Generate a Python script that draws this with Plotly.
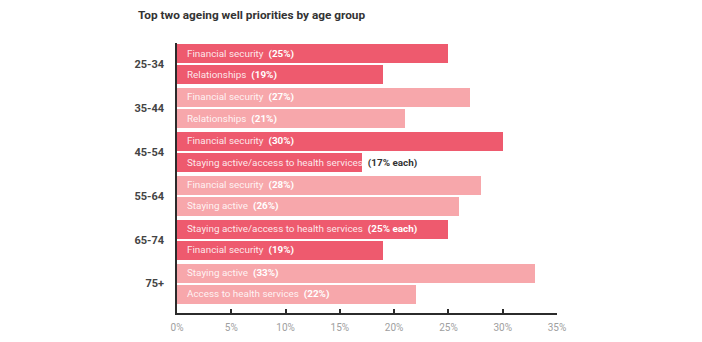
import plotly.graph_objects as go

# ---- data ----
age_groups = ["25-34", "35-44", "45-54", "55-64", "65-74", "75+"]
priorities = [
    "Financial security", "Relationships",
    "Financial security", "Relationships",
    "Financial security", "Staying active/access to health services",
    "Financial security", "Staying active",
    "Staying active/access to health services", "Financial security",
    "Staying active", "Access to health services",
]
values = [25, 19, 27, 21, 30, 17, 28, 26, 25, 19, 33, 22]
pct_labels = ["(25%)", "(19%)", "(27%)", "(21%)", "(30%)", "(17% each)",
              "(28%)", "(26%)", "(25% each)", "(19%)", "(33%)", "(22%)"]
x_ticks = [0, 5, 10, 15, 20, 25, 30, 35]

# ---- layout helpers (pixel-like units on y) ----
DARK = "#EE5A6E"
LIGHT = "#F7A7AB"
Y0, GROUP_STEP, BAR_STEP, BAR_H = 53.5, 43.9, 21.2, 19

ys, colors = [], []
for i, v in enumerate(values):
    g, k = divmod(i, 2)
    ys.append(Y0 + g * GROUP_STEP + k * BAR_STEP)
    colors.append(DARK if g % 2 == 0 else LIGHT)
group_centers = [Y0 + g * GROUP_STEP + BAR_STEP / 2 for g in range(len(age_groups))]

FONT = "Roboto"

fig = go.Figure(go.Bar(
    x=values, y=ys, orientation="h", width=BAR_H,
    marker=dict(color=colors, line=dict(width=0)),
    hoverinfo="skip",
))

annotations = []
for i, (lab, v, p) in enumerate(zip(priorities, values, pct_labels)):
    pcol = "#333333" if v < 18 else "#ffffff"
    txt = (f'<span style="color:rgba(255,255,255,0.88)">{lab}</span>'
           f'&nbsp;&nbsp;<b><span style="color:{pcol}">{p}</span></b>')
    annotations.append(dict(
        x=0, y=ys[i], xref="x", yref="y", text=txt, showarrow=False,
        xanchor="left", yanchor="middle", xshift=8,
        font=dict(family=FONT, size=9.9, color="#ffffff"),
    ))

fig.update_layout(
    width=702, height=342,
    margin=dict(l=177, r=145, t=43, b=29, autoexpand=False),
    paper_bgcolor="white", plot_bgcolor="white",
    showlegend=False,
    bargap=0,
    title=dict(
        text="<b>Top two ageing well priorities by age group</b>",
        x=138 / 702, xref="container", xanchor="left",
        y=1 - 15 / 342, yref="container", yanchor="middle",
        font=dict(family=FONT, size=11.8, color="#333333"),
        automargin=False,
    ),
    xaxis=dict(
        range=[0, 35], tickvals=x_ticks, ticktext=[f"{t}%" for t in x_ticks],
        showgrid=False, zeroline=False, automargin=False,
        showline=True, linecolor="#2b2b2b", linewidth=1.5,
        ticks="inside", ticklen=4, tickwidth=1.5, tickcolor="#2b2b2b",
        ticklabelstandoff=4,
        tickfont=dict(family=FONT, size=10, color="#a0a0a0"),
        fixedrange=True,
    ),
    yaxis=dict(
        range=[313, 43], tickvals=group_centers, ticktext=age_groups,
        showgrid=False, zeroline=False, automargin=False,
        showline=True, linecolor="#2b2b2b", linewidth=1.5,
        ticks="", ticklabelstandoff=9,
        tickfont=dict(family=FONT, size=11, color="#444444", weight="bold"),
        fixedrange=True,
    ),
    annotations=annotations,
)

fig.write_html("out.html")
